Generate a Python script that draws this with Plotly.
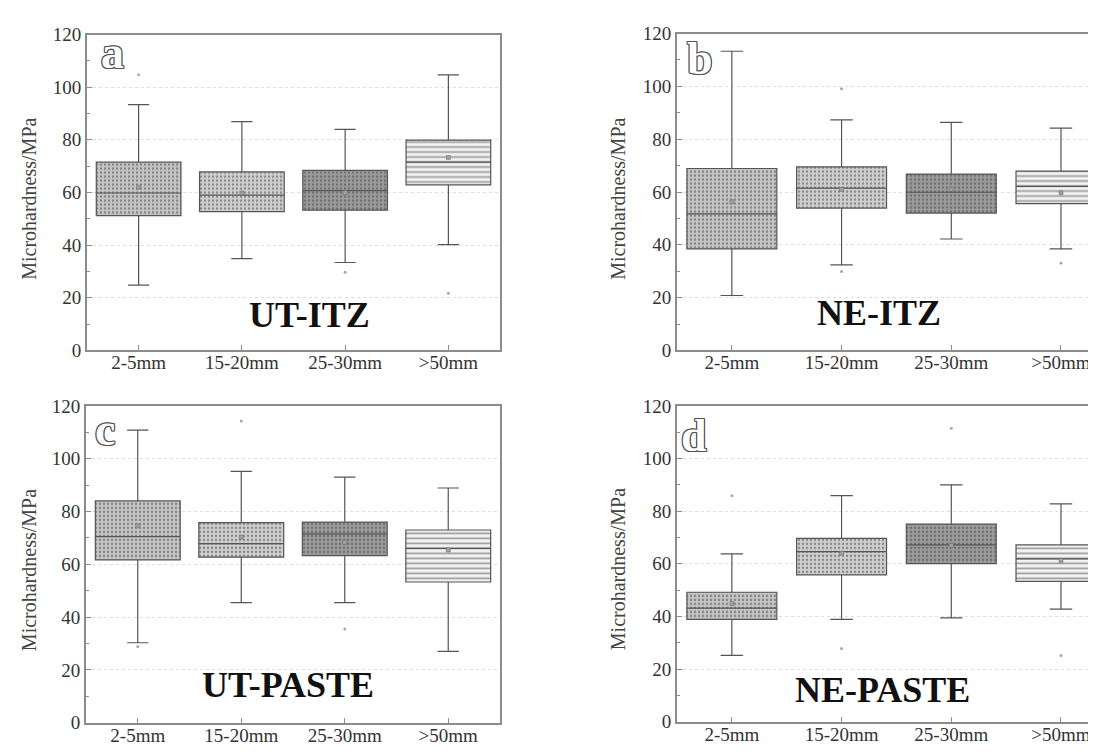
import plotly.graph_objects as go

W, H = 1096, 752

categories = ["2-5mm", "15-20mm", "25-30mm", ">50mm"]
y_ticks = [0, 20, 40, 60, 80, 100, 120]

# Panel a: UT-ITZ
ut_itz_lower = [24.8, 34.9, 33.4, 40.2]
ut_itz_q1 = [51.2, 52.7, 53.3, 62.9]
ut_itz_median = [59.8, 59.0, 60.7, 71.5]
ut_itz_q3 = [71.5, 67.8, 68.4, 79.9]
ut_itz_upper = [93.4, 86.9, 84.0, 104.7]
ut_itz_mean = [62.0, 59.8, 60.0, 73.3]
ut_itz_out_cat = ["2-5mm", "25-30mm", ">50mm"]
ut_itz_out_val = [104.7, 29.7, 21.7]

# Panel b: NE-ITZ
ne_itz_lower = [20.8, 32.4, 42.2, 38.5]
ne_itz_q1 = [38.5, 53.9, 52.0, 55.6]
ne_itz_median = [51.7, 61.5, 59.9, 62.1]
ne_itz_q3 = [68.9, 69.5, 66.8, 67.9]
ne_itz_upper = [113.3, 87.3, 86.4, 84.2]
ne_itz_mean = [56.3, 61.0, 61.0, 59.7]
ne_itz_out_cat = ["15-20mm", "15-20mm", ">50mm"]
ne_itz_out_val = [99.1, 29.9, 33.1]

# Panel c: UT-PASTE
ut_paste_lower = [30.3, 45.5, 45.5, 27.0]
ut_paste_q1 = [61.7, 62.7, 63.3, 53.3]
ut_paste_median = [70.5, 67.8, 71.5, 66.0]
ut_paste_q3 = [84.0, 75.8, 76.0, 73.0]
ut_paste_upper = [110.8, 95.2, 93.0, 88.9]
ut_paste_mean = [74.6, 70.3, 68.4, 65.4]
ut_paste_out_cat = ["2-5mm", "15-20mm", "25-30mm"]
ut_paste_out_val = [28.9, 114.3, 35.5]

# Panel d: NE-PASTE
ne_paste_lower = [25.2, 38.9, 39.5, 42.8]
ne_paste_q1 = [38.9, 55.8, 60.1, 53.3]
ne_paste_median = [43.2, 64.6, 67.2, 61.9]
ne_paste_q3 = [49.2, 69.7, 75.1, 67.2]
ne_paste_upper = [63.8, 85.9, 90.0, 82.8]
ne_paste_mean = [44.9, 64.0, 67.0, 61.3]
ne_paste_out_cat = ["2-5mm", "15-20mm", "25-30mm", ">50mm"]
ne_paste_out_val = [85.9, 27.8, 111.5, 25.2]

panel_titles = ["UT-ITZ", "NE-ITZ", "UT-PASTE", "NE-PASTE"]
panel_letters = ["a", "b", "c", "d"]
y_title = "Microhardness/MPa"

panels = [
    (ut_itz_lower, ut_itz_q1, ut_itz_median, ut_itz_q3, ut_itz_upper, ut_itz_mean, ut_itz_out_cat, ut_itz_out_val),
    (ne_itz_lower, ne_itz_q1, ne_itz_median, ne_itz_q3, ne_itz_upper, ne_itz_mean, ne_itz_out_cat, ne_itz_out_val),
    (ut_paste_lower, ut_paste_q1, ut_paste_median, ut_paste_q3, ut_paste_upper, ut_paste_mean, ut_paste_out_cat, ut_paste_out_val),
    (ne_paste_lower, ne_paste_q1, ne_paste_median, ne_paste_q3, ne_paste_upper, ne_paste_mean, ne_paste_out_cat, ne_paste_out_val),
]

# layout geometry (pixels: left, right, top, bottom), x range
geom = [
    (79, 492, 17, 342, [-0.5, 3.5], True),
    (669, 1096, 16, 342, [-0.5, 3.392], False),
    (78, 492, 399, 725, [-0.5, 3.5], True),
    (669, 1096, 399, 724, [-0.5, 3.392], False),
]
ylabel_pos = [(21, 186), (610, 186), (21, 568), (610, 567)]
letter_pos = [(104, 36), (692, 42), (97, 423), (686, 429)]
title_pos = [(301, 306), (871, 303), (280, 686), (874, 691)]

fill_color = ["#c6c6c6", "#d0d0d0", "#9c9c9c", "#f4f4f4"]
fill_fg = ["#b0b0b0", "#bcbcbc", "#868686", "#a4a4a4"]
fill_shape = [".", ".", ".", "-"]
fill_size = [4, 4, 4, 5]
fill_solid = [0.3, 0.3, 0.3, 0.35]

SERIF = "Liberation Serif, Times New Roman, serif"
fig = go.Figure()

for i, (lo, q1, med, q3, up, mean, oc, ov) in enumerate(panels):
    xa = "x" if i == 0 else f"x{i+1}"
    ya = "y" if i == 0 else f"y{i+1}"
    heights = [b - a for a, b in zip(q1, q3)]
    fig.add_trace(go.Bar(
        x=categories, y=heights, base=q1, width=0.82, opacity=1,
        marker=dict(color=fill_color, line=dict(width=0),
                    pattern=dict(shape=fill_shape, fgcolor=fill_fg,
                                 size=fill_size, solidity=fill_solid, fillmode="overlay")),
        xaxis=xa, yaxis=ya, showlegend=False, hoverinfo="skip"))
    fig.add_trace(go.Box(
        x=categories, q1=q1, median=med, q3=q3, lowerfence=lo, upperfence=up,
        width=0.82, whiskerwidth=0.25, fillcolor="rgba(0,0,0,0)",
        line=dict(color="#555555", width=1.2), boxpoints=False,
        xaxis=xa, yaxis=ya, showlegend=False))
    fig.add_trace(go.Scatter(
        x=categories, y=mean, mode="markers",
        marker=dict(symbol="square", size=4, color="#a0a0a0", line=dict(width=0.5, color="#6a6a6a")),
        xaxis=xa, yaxis=ya, showlegend=False))
    fig.add_trace(go.Scatter(
        x=oc, y=ov, mode="markers",
        marker=dict(symbol="circle", size=3, color="#a8a8a8"),
        xaxis=xa, yaxis=ya, showlegend=False))

layout = dict(width=W, height=H, margin=dict(l=0, r=0, t=0, b=0),
              paper_bgcolor="white", plot_bgcolor="white", barmode="overlay",
              font=dict(family=SERIF, color="#333", size=18))

for i, (l, r, t, b, xr, right_line) in enumerate(geom):
    xk = "xaxis" if i == 0 else f"xaxis{i+1}"
    yk = "yaxis" if i == 0 else f"yaxis{i+1}"
    xa = "x" if i == 0 else f"x{i+1}"
    ya = "y" if i == 0 else f"y{i+1}"
    layout[xk] = dict(domain=[l / W, min(r / W, 1.0)], anchor=ya, range=xr,
                      type="category", categoryorder="array", categoryarray=categories,
                      showline=True, linecolor="#8c8c8c", linewidth=2, mirror=True,
                      ticks="inside", ticklen=5, tickcolor="#8c8c8c", tickwidth=1,
                      ticklabelstandoff=-6,
                      showgrid=False, zeroline=False,
                      tickfont=dict(family=SERIF, size=19, color="#333"))
    layout[yk] = dict(domain=[1 - b / H, 1 - t / H], anchor=xa, range=[0, 120],
                      tickvals=y_ticks, ticktext=[str(v) for v in y_ticks],
                      showline=True, linecolor="#8c8c8c", linewidth=2,
                      mirror=right_line,
                      ticks="inside", ticklen=5, tickcolor="#8c8c8c", tickwidth=1,
                      minor=dict(ticks="inside", ticklen=3, dtick=10, tick0=0,
                                 tickcolor="#8c8c8c", showgrid=False),
                      showgrid=True, gridcolor="#dedede", griddash="dot", gridwidth=1,
                      zeroline=False,
                      tickfont=dict(family=SERIF, size=19, color="#333"))

outline = ", ".join(f"{dx}px {dy}px 0 #505050" for dx in (-1, 0, 1) for dy in (-1, 0, 1) if dx or dy)
annotations = []
for i in range(4):
    x, y = ylabel_pos[i]
    annotations.append(dict(text=y_title, x=x / W, y=1 - y / H, xref="paper", yref="paper",
                            showarrow=False, textangle=-90, xanchor="center", yanchor="middle",
                            font=dict(family=SERIF, size=20, color="#444")))
    x, y = letter_pos[i]
    annotations.append(dict(text=panel_letters[i], x=x / W, y=1 - y / H, xref="paper", yref="paper",
                            showarrow=False, xanchor="center", yanchor="middle",
                            font=dict(family=SERIF, size=46, color="white", weight="bold",
                                      shadow=outline)))
    x, y = title_pos[i]
    annotations.append(dict(text="<b>" + panel_titles[i] + "</b>", x=x / W, y=1 - y / H,
                            xref="paper", yref="paper", showarrow=False,
                            xanchor="center", yanchor="middle",
                            font=dict(family=SERIF, size=36, color="#111")))
layout["annotations"] = annotations

fig.update_layout(**layout)
fig.write_html("out.html")
